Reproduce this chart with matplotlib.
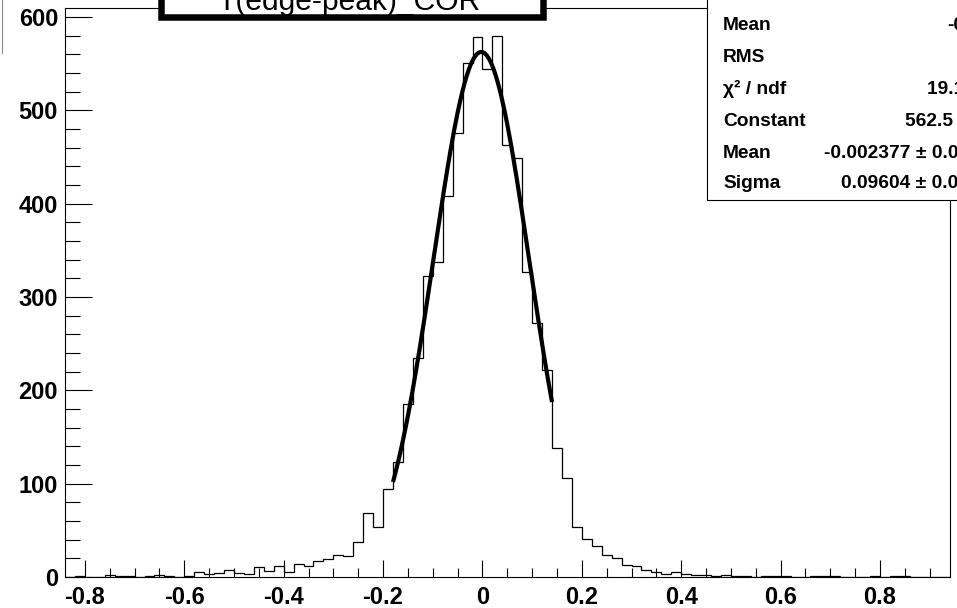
import matplotlib
matplotlib.use('Agg')
import matplotlib.pyplot as plt
import numpy as np
from matplotlib.patches import Rectangle
from matplotlib.lines import Line2D
from matplotlib.ticker import MultipleLocator

plt.rcParams['font.family'] = ['Liberation Sans', 'DejaVu Sans']

# ---- data ----
bin_low = -0.84
bin_width = 0.02
counts = [0, 1, 0, 0, 2, 1, 1, 0, 1, 2, 1, 0, 1, 5, 3, 4, 8, 4, 3, 11, 6, 12, 5, 14, 12, 17,
          19, 24, 23, 38, 69, 54, 94, 123, 185, 235, 323, 337, 408, 476, 551, 578,
          544, 580, 463, 449, 327, 272, 222, 138, 106, 54, 41, 33, 24, 20, 13, 12, 8, 5,
          3, 5, 3, 2, 2, 1, 2, 1, 1, 0, 1, 1, 1, 0, 0, 1, 1, 1, 0, 0, 0, 1, 0, 1, 1, 0,
          0, 0, 0]

fit_constant = 562.5
fit_mean = -0.002377
fit_sigma = 0.09604
fit_range = [-0.18, 0.14]

x_ticks = [-0.8, -0.6, -0.4, -0.2, 0.0, 0.2, 0.4, 0.6, 0.8]
x_tick_labels = ['-0.8', '-0.6', '-0.4', '-0.2', '0', '0.2', '0.4', '0.6', '0.8']
y_ticks = [0, 100, 200, 300, 400, 500, 600]
y_tick_labels = ['0', '100', '200', '300', '400', '500', '600']

title = 'T(edge-peak)_COR'
stat_labels = ['Mean', 'RMS', '\u03c7\u00b2 / ndf', 'Constant', 'Mean', 'Sigma']
stat_values = ['-0.0047', '0.132', '19.12 / 13', '562.5 \u00b1 7.42',
               '-0.002377 \u00b1 0.002322', '0.09604 \u00b1 0.001806']

# ---- figure ----
W, H = 957, 608
fig = plt.figure(figsize=(W / 100, H / 100), dpi=100)
fig.patch.set_facecolor('white')

ax_l, ax_r, ax_t, ax_b = 65.0, 949.6, 8.0, 577.0
ax = fig.add_axes([ax_l / W, (H - ax_b) / H, (ax_r - ax_l) / W, (ax_b - ax_t) / H])
ax.set_xlim(-0.84, 0.94)
ax.set_ylim(0, 609.6)

edges = bin_low + bin_width * np.arange(len(counts) + 1)
ax.stairs(counts, edges, color='black', lw=0.9)

xs = np.linspace(fit_range[0], fit_range[1], 300)
ys = fit_constant * np.exp(-0.5 * ((xs - fit_mean) / fit_sigma) ** 2)
ax.plot(xs, ys, color='black', lw=3.0, solid_capstyle='butt')

for s in ax.spines.values():
    s.set_linewidth(0.8)
    s.set_color('black')

ax.set_xticks(x_ticks)
ax.set_xticklabels(x_tick_labels, fontweight='bold', fontsize=17)
ax.xaxis.set_minor_locator(MultipleLocator(0.05))
ax.set_yticks(y_ticks)
ax.set_yticklabels(y_tick_labels, fontweight='bold', fontsize=17)
ax.yaxis.set_minor_locator(MultipleLocator(20))
ax.tick_params(axis='x', which='major', direction='in', length=12, width=0.8, pad=6.5)
ax.tick_params(axis='x', which='minor', direction='in', length=6.5, width=0.8)
ax.tick_params(axis='y', which='major', direction='in', length=19.5, width=0.8, pad=5)
ax.tick_params(axis='y', which='minor', direction='in', length=10.8, width=0.8)

# ---- title box ----
def fx(px):
    return px / W

def fy(py):
    return (H - py) / H

tlw = 6.5  # px
title_box = Rectangle((fx(158 + tlw / 2), fy(20.7 - tlw / 2)),
                      fx(546 - 158 - tlw), 100 / H,
                      transform=fig.transFigure, facecolor='white', edgecolor='black',
                      lw=tlw * 0.72, zorder=5)
fig.add_artist(title_box)
fig.text(fx(348.5), fy(10.5), title, ha='center', va='baseline', fontsize=21.6,
         zorder=6)

# ---- stats box ----
stats_box = Rectangle((fx(707), fy(200)), 400 / W, 300 / H,
                      transform=fig.transFigure, facecolor='white', edgecolor='black',
                      lw=0.8, zorder=5)
fig.add_artist(stats_box)
row_centers = [24, 55, 87, 119, 152, 182]
for yc, lab, val in zip(row_centers, stat_labels, stat_values):
    fig.text(fx(723), fy(yc + 6.5), lab, ha='left', va='baseline', fontsize=13.8,
             fontweight='bold', zorder=6)
    fig.text(fx(1012), fy(yc + 6.5), val, ha='right', va='baseline', fontsize=13.8,
             fontweight='bold', zorder=6)

# small edge line at top-left
fig.add_artist(Line2D([fx(1.5), fx(1.5)], [fy(0), fy(53)], transform=fig.transFigure,
                      color='#888888', lw=0.8))

fig.savefig('out.png', dpi=100)
